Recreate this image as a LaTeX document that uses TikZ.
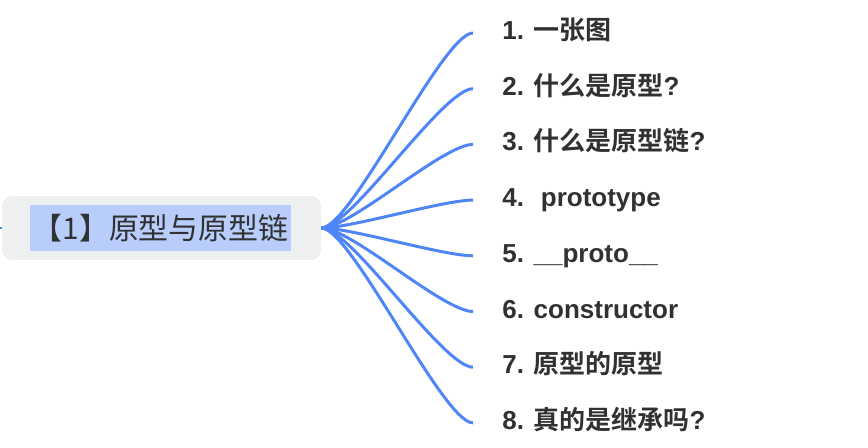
\documentclass[tikz,border=0pt]{standalone}
\usepackage{fontspec}
\setmainfont{Liberation Sans}
\newfontfamily\cjk[BoldFont={Noto Sans CJK SC Bold}]{Noto Sans CJK SC}
\usepackage{tikz}
\definecolor{branchblue}{RGB}{78,134,248}
\definecolor{rootgrey}{RGB}{238,239,241}
\definecolor{markblue}{RGB}{185,205,250}
\definecolor{inkgrey}{RGB}{48,49,51}
\newcommand\zh[1]{{\cjk\bfseries #1}}
\tikzset{
  rootbox/.style={
    fill=rootgrey,
    rounded corners=0.2cm,
    minimum width=6.38cm,
    minimum height=1.28cm
  },
  rootmark/.style={
    fill=markblue,
    text=inkgrey,
    inner xsep=1.5pt,
    minimum height=0.92cm,
    font=\cjk\fontsize{17}{20}\selectfont
  },
  topic/.style={
    anchor=west,
    inner xsep=0.58cm,
    inner ysep=0pt,
    text=inkgrey,
    text height=0.75em,
    text depth=0pt,
    font=\fontsize{14.8}{17}\selectfont\bfseries
  },
  branch/.style={
    draw=branchblue,
    line width=1.7pt,
    out=0, in=180,
    distance=0.6cm
  }
}
\begin{document}
\begin{tikzpicture}[x=0.02cm, y=-0.02cm]
\newcommand\XLeaf{473}
\newcommand\YLeaf{33}
\newcommand\DLeaf{55.7}
\useasboundingbox (0,0) rectangle (868,448);
\coordinate (parent) at (-10,228);
\draw[branchblue, line width=1.7pt] (parent) -- (2,228);
\node[rootbox] (root) at (161.5,228) {};
\node[rootmark] (rootlabel) at ([xshift=-0.02cm]root.center) {【1】原型与原型链};
\node[topic] (T1) at (\XLeaf,\YLeaf) {1. \zh{一张图}};
\node[topic] (T2) at (\XLeaf,\YLeaf+\DLeaf) {2. \zh{什么是原型}?};
\node[topic] (T3) at (\XLeaf,\YLeaf+2*\DLeaf) {3. \zh{什么是原型链}?};
\node[topic] (T4) at (\XLeaf,\YLeaf+3*\DLeaf) {4.~ prototype};
\node[topic] (T5) at (\XLeaf,\YLeaf+4*\DLeaf) {5. \_\_proto\_\_};
\node[topic] (T6) at (\XLeaf,\YLeaf+5*\DLeaf) {6. constructor};
\node[topic] (T7) at (\XLeaf,\YLeaf+6*\DLeaf) {7. \zh{原型的原型}};
\node[topic] (T8) at (\XLeaf,\YLeaf+7*\DLeaf) {8. \zh{真的是继承吗}?};

\path (root.east) edge[branch] (T1.west)
                  edge[branch] (T2.west)
                  edge[branch] (T3.west)
                  edge[branch] (T4.west)
                  edge[branch] (T5.west)
                  edge[branch] (T6.west)
                  edge[branch] (T7.west)
                  edge[branch] (T8.west);
\end{tikzpicture}
\end{document}
